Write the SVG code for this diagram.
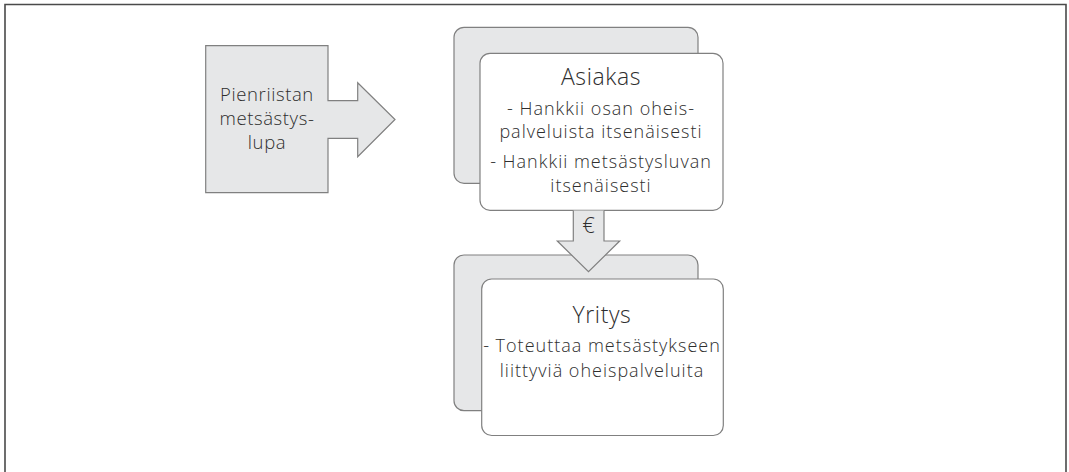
<svg xmlns="http://www.w3.org/2000/svg" width="1069" height="472" viewBox="0 0 1069 472">
<style>
.bg{fill:#ffffff}
.frame{fill:none;stroke:#4a4a4a;stroke-width:1.6}
.grey{fill:#e6e7e8;stroke:#808080;stroke-width:1.2}
.card{fill:#ffffff;stroke:#808080;stroke-width:1.2}
text{font-family:"Open Sans","Liberation Sans",sans-serif;font-weight:300;fill:#2e2e2e;text-anchor:middle}
.title{font-size:23px;letter-spacing:0.6px}
.body{font-size:18px;letter-spacing:1px}
.side{font-size:18.5px;letter-spacing:0.6px}
</style>
<rect class="bg" x="0" y="0" width="1069" height="472"/>
<path class="frame" d="M5,472 V4.5 H1066 V472"/>
<g id="connectors">
<path id="arrow-permit" class="grey" d="M205.7,45.7 H328 V100.7 H357.7 V82.7 L395,119.5 L357.7,156.7 V138.3 H328 V192.7 H205.7 Z"/>
</g>
<g id="node-permit">
<text class="side" x="267" y="101">Pienriistan</text>
<text class="side" x="267" y="125">metsästys-</text>
<text class="side" x="267" y="149">lupa</text>
</g>
<g id="node-asiakas">
<rect class="grey" x="454" y="27.3" width="244" height="156" rx="10"/>
<rect class="card" x="480" y="53.3" width="243" height="157" rx="10"/>
<text class="title" x="601" y="85">Asiakas</text>
<text class="body" x="601" y="115">- Hankkii osan oheis-</text>
<text class="body" x="601" y="138">palveluista itsenäisesti</text>
<text class="body" x="601" y="168">- Hankkii metsästysluvan</text>
<text class="body" x="601" y="192">itsenäisesti</text>
</g>
<g id="node-yritys">
<rect class="grey" x="454" y="255" width="244" height="155.7" rx="10"/>
<g id="arrow-euro">
<path class="grey" d="M573.3,210.6 V241 H557.3 L588.5,271.7 L619.7,241 H604 V210.6"/>
<text x="588.5" y="233" style="font-size:22px">€</text>
</g>
<rect class="card" x="481.7" y="279" width="241.6" height="156.5" rx="10"/>
<text class="title" x="602" y="323.3">Yritys</text>
<text class="body" x="602" y="351.7">- Toteuttaa metsästykseen</text>
<text class="body" x="602" y="376.7">liittyviä oheispalveluita</text>
</g>
</svg>
